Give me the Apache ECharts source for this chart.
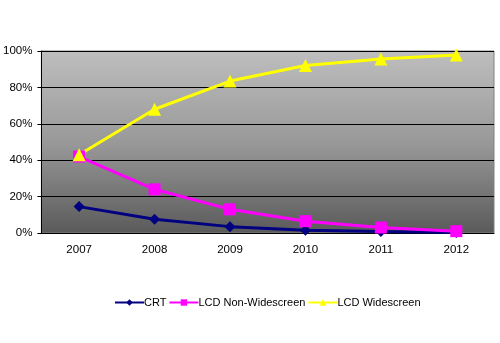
<!DOCTYPE html>
<html><head><meta charset="utf-8">
<script src="https://cdn.jsdelivr.net/npm/echarts@6/dist/echarts.min.js"></script>
<style>html,body{margin:0;padding:0;background:#fff}#c{width:500px;height:343px}</style>
</head><body><div id="c"></div>
<script>
const categories = ['2007','2008','2009','2010','2011','2012'];
const crt = [14.5, 7.5, 3.5, 1.5, 0.8, 0.3];
const lcdNonWide = [42, 24, 13, 6.5, 3, 1];
const lcdWide = [43, 68, 83.5, 92, 95.6, 97.8];
const yTicks = [0, 20, 40, 60, 80, 100];

const font = 'Liberation Sans, Arial, sans-serif';
const chart = echarts.init(document.getElementById('c'), null, {renderer:'canvas'});
chart.setOption({
  animation: false,
  grid: {left: 41, right: 6, top: 51, bottom: 110, show: true, borderColor: '#808080', borderWidth: 1,
    backgroundColor: new echarts.graphic.LinearGradient(0,0,0,1,[{offset:0,color:'#bebebe'},{offset:0.5,color:'#999999'},{offset:1,color:'#5a5a5a'}])},
  legend: {bottom: 35, left: 114, padding: 0, itemGap: 2, itemWidth: 29, itemHeight: 8,
    textStyle: {fontFamily: font, fontSize: 11, color: '#000', padding: [0,0,0,-5]},
    data: ['CRT','LCD Non-Widescreen','LCD Widescreen']},
  xAxis: {type: 'category', data: categories, boundaryGap: true,
    axisLine: {lineStyle: {color: '#000'}}, axisTick: {length: 5, lineStyle: {color: '#000'}},
    axisLabel: {fontFamily: font, fontSize: 11.5, color: '#000', margin: 11}},
  yAxis: {type: 'value', min: 0, max: 100, interval: 20,
    axisLine: {show: true, lineStyle: {color: '#000'}}, axisTick: {show: true, length: 4, lineStyle: {color: '#000'}},
    splitLine: {lineStyle: {color: '#000', width: 1}},
    axisLabel: {fontFamily: font, fontSize: 11.5, color: '#000', margin: 9, formatter: v => yTicks.includes(v) ? v + '%' : ''}},
  series: [
    {name: 'CRT', type: 'line', data: crt, symbol: 'diamond', symbolSize: 11,
      lineStyle: {color: '#000080', width: 3}, itemStyle: {color: '#000080'}},
    {name: 'LCD Non-Widescreen', type: 'line', data: lcdNonWide, symbol: 'rect', symbolSize: 12,
      lineStyle: {color: '#ff00ff', width: 3}, itemStyle: {color: '#ff00ff'}},
    {name: 'LCD Widescreen', type: 'line', data: lcdWide, symbol: 'triangle', symbolSize: 13,
      lineStyle: {color: '#ffff00', width: 3}, itemStyle: {color: '#ffff00'}}
  ]
});
</script></body></html>
